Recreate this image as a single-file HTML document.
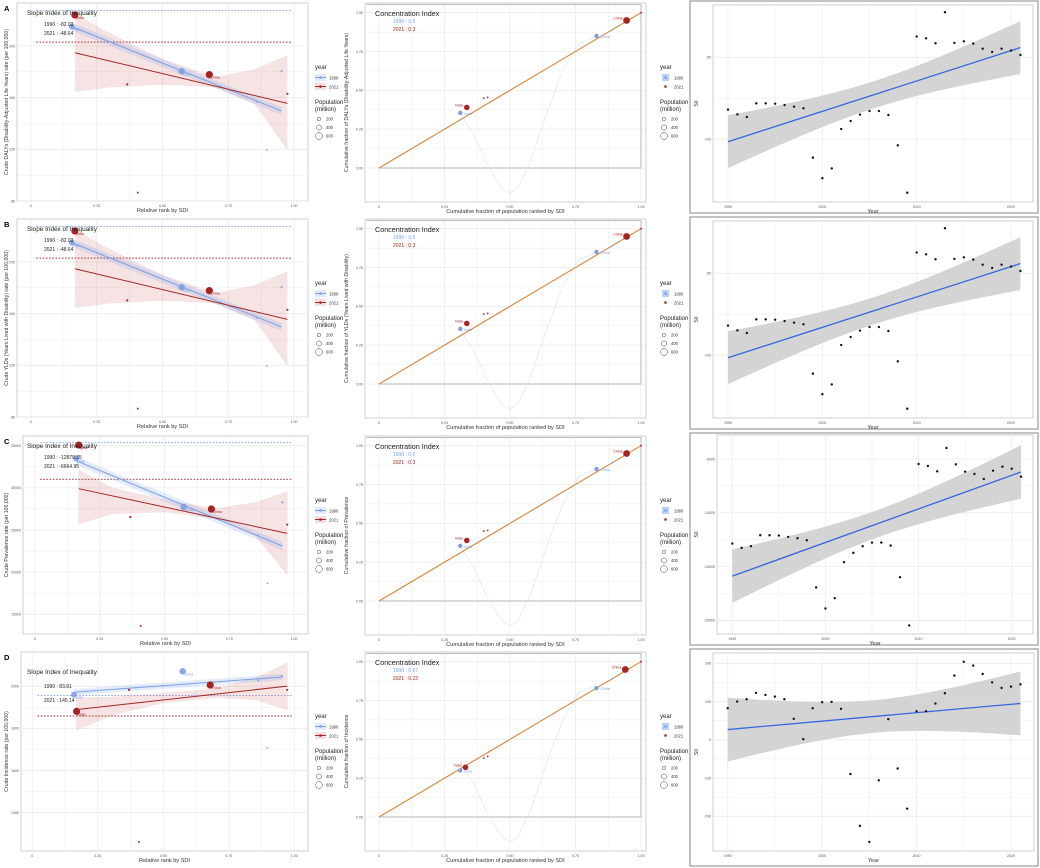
<!DOCTYPE html>
<html><head><meta charset="utf-8"><style>
html,body{margin:0;padding:0;background:#fff;}
svg{display:block;font-family:"Liberation Sans",Arial,sans-serif;}
</style></head><body>
<svg id="fig" width="1040" height="868" viewBox="0 0 1040 868"></svg>
<script>
// ---------- DATA ----------
// Left panels (slope index): rows A,B,C,D
const rank1990 = [[0.155,0.573,0.953,0.858,0.896],[0.155,0.573,0.953,0.858,0.896],[0.158,0.574,0.955,0.862,0.898],[0.159,0.574,0.953,0.863,0.897]];
const val1990 = [[215,180.4,180.6,157,119.5],[215,180.4,180.6,157,119.5],[33498,27727,28281,24367,18676],[1960,2071,2047,2027,1708]];
const pop1990 = [850,1130,40,25,15];
const rank2021 = [[0.167,0.366,0.678,0.406,0.975],[0.167,0.366,0.678,0.406,0.975],[0.169,0.368,0.681,0.408,0.974],[0.169,0.369,0.679,0.407,0.973]];
const val2021 = [[224,170.3,177.8,86.5,163],[224,170.3,177.8,86.5,163],[35079,26542,27490,13616,25632],[1881,1983,2006,1261,1983]];
const pop2021 = [1400,40,1420,20,30];
const countryNames = ["India","China"];
const fit1990 = [[215,149.7],[215,149.7],[33221,23103],[1972,2044]];
const fit2021 = [[194.8,155.6],[194.8,155.6],[29901,24605],[1889,2001]];
const fitX1990 = [[0.155,0.953],[0.155,0.953],[0.158,0.955],[0.159,0.953]];
const fitX2021 = [[0.167,0.975],[0.167,0.975],[0.169,0.974],[0.169,0.973]];
const bandX = [0.167,0.3,0.5,0.7,0.85,0.975];
const bandLo2021 = [[164.5,168,170,168,155,119.5],[164.5,168,170,168,155,119.5],[25672,26900,27100,26300,24300,19585],[1789,1860,1920,1945,1935,1886]];
const bandHi2021 = [[225,210,190,176,182,193],[225,210,190,176,182,193],[32194,30000,28600,27600,28300,29585],[1947,1950,1968,1990,2040,2114]];
const hline1990 = [227.4,227.4,35356,1956];
const hline2021 = [203,203,31008,1859];
const sii1990 = ["1990 : -82.03","1990 : -82.03","1990 : -12870.35","1990 : 83.81"];
const sii2021 = ["2021 : -48.64","2021 : -48.64","2021 : -6664.95","2021 : 145.14"];
const leftTicks = [[80,120,160,200],[80,120,160,200],[15000,20000,25000,30000,35000],[1400,1600,1800,2000]];
const leftYTitles = ["Crude DALYs (Disability-Adjusted Life Years) rate (per 100,000)","Crude YLDs (Years Lived with Disability) rate (per 100,000)","Crude Prevalence rate (per 100,000)","Crude Incidence rate (per 100,000)"];
// Middle panels (concentration)
const ci1990 = ["1990 : 0.6","1990 : 0.6","1990 : 0.6","1990 : 0.57"];
const ci2021 = ["2021 : 0.3","2021 : 0.3","2021 : 0.3","2021 : 0.22"];
const cumPop1990 = [[0.31,0.83,0.89],[0.31,0.83,0.89],[0.31,0.83,0.89],[0.31,0.83,0.89]];
const cumVal1990 = [[0.355,0.85,0.89],[0.355,0.85,0.89],[0.355,0.85,0.89],[0.30,0.83,0.89]];
const cumPop2021 = [[0.335,0.945,0.40,0.415,1.0],[0.335,0.945,0.40,0.415,1.0],[0.335,0.945,0.40,0.415,1.0],[0.33,0.94,0.40,0.415,1.0]];
const cumVal2021 = [[0.39,0.95,0.45,0.455,1.0],[0.39,0.95,0.45,0.455,1.0],[0.39,0.95,0.45,0.455,1.0],[0.32,0.95,0.38,0.39,1.0]];
const curveX = [0.31,0.36,0.42,0.47,0.5,0.53,0.58,0.64,0.70,0.76,0.83];
const curveY = [0.355,0.22,0.0,-0.13,-0.16,-0.13,0.05,0.35,0.62,0.80,0.85];
const midYTitles = ["Cumulative fraction of DALYs (Disability-Adjusted Life Years)","Cumulative fraction of YLDs (Years Lived with Disability)","Cumulative fraction of Prevalence","Cumulative fraction of Incidence"];
const fracTicks = [0,0.25,0.5,0.75,1];
// Right panels (SII over years)
const years = [1990,1991,1992,1993,1994,1995,1996,1997,1998,1999,2000,2001,2002,2003,2004,2005,2006,2007,2008,2009,2010,2011,2012,2013,2014,2015,2016,2017,2018,2019,2020,2021];
const siiA = [-82,-84.9,-86.5,-78.2,-78.2,-78.4,-79.2,-80.2,-81.2,-111.4,-124,-118,-93.9,-89,-85.1,-82.9,-82.9,-85.3,-103.9,-132.9,-37.3,-38.4,-41.4,-22.4,-41.2,-40.2,-41.6,-44.7,-46.7,-44.7,-45.9,-48.6];
const siiB = siiA.slice();
const siiC = [-12864,-13266,-13111,-12090,-12090,-12121,-12245,-12368,-12554,-16950,-18901,-17941,-14598,-13731,-13111,-12771,-12771,-13050,-15991,-20480,-5464,-5650,-6146,-3978,-5495,-6176,-6393,-6858,-6084,-5712,-5898,-6641];
const siiD = [82.6,100,106,122.6,117.4,113,106,54.8,1.7,82.6,98.3,99,81,-89.6,-225,-267,-106,54,-75,-180,74.8,74.8,94.8,121.7,167.8,204,194,172,150,135.7,139,145];
const siiSeries = [siiA,siiB,siiC,siiD];
const rightTicks = [[-100,-50],[-100,-50],[-20000,-15000,-10000,-5000],[-200,-100,0,100,200]];
const yearTicks = [1990,2000,2010,2020];

// ---------- LAYOUT ----------
const leftCfg = [
 {px0:17,px1:308,py0:3,py1:201,x0:31,x1:294,va:200,ya:46,vb:80,yb:201},
 {px0:17,px1:308,py0:219,py1:417,x0:31,x1:294,va:200,ya:262,vb:80,yb:417},
 {px0:23,px1:308,py0:436,py1:634,x0:35,x1:294,va:35000,ya:445.7,vb:15000,yb:614.3},
 {px0:21,px1:308,py0:652,py1:851,x0:32.3,x1:294.3,va:2000,ya:686.3,vb:1400,yb:812.7}];
const midOff=[0,216,433,649];
const rightCfg = [
 {bx:690,by:1,bh:212,px0:713,px1:1033,py0:5,py1:202,x0:728,x1:1011,va:-50,ya:57.3,vb:-100,yb:139},
 {bx:690,by:217,bh:212,px0:713,px1:1033,py0:221,py1:418,x0:728,x1:1011,va:-50,ya:273.3,vb:-100,yb:355},
 {bx:690,by:433,bh:212,px0:717,px1:1033,py0:435,py1:634,x0:732.3,x1:1011.7,va:-5000,ya:459,vb:-20000,yb:620.3},
 {bx:690,by:649,bh:217,px0:713,px1:1034,py0:653,py1:851,x0:727.7,x1:1011,va:200,ya:663.3,vb:-200,yb:816.3}];

const svg=document.getElementById('fig');
const NS='http://www.w3.org/2000/svg';
function mk(tag,attrs,parent){const e=document.createElementNS(NS,tag);for(const k in attrs)e.setAttribute(k,attrs[k]);(parent||svg).appendChild(e);return e;}
function txt(x,y,s,size,fill,anchor,parent,extra){const e=mk('text',Object.assign({x:x,y:y,'font-size':size,fill:fill||'#333','text-anchor':anchor||'start'},extra||{}),parent);e.textContent=s;return e;}
function lin(a0,p0,a1,p1){return v=>p0+(v-a0)*(p1-p0)/(a1-a0);}

const BLUE='#7c9fe6', RED='#a52424';
function rad(p){return 0.6+Math.sqrt(p)*0.08;}

function frame(c,g,xs,ys,xt,yt,xlab,ylab,fmtX,fmtY){
  const bg=mk('rect',{x:c.px0,y:c.py0,width:c.px1-c.px0,height:c.py1-c.py0,fill:'#fff',stroke:'#cfcfcf','stroke-width':1},g);
  
  
  const all=[];
  for(let i=0;i<xt.length;i++){all.push([xs(xt[i]),1]);if(i<xt.length-1)all.push([xs((xt[i]+xt[i+1])/2),0]);}
  all.forEach(a=>{const l=mk('line',{x1:a[0],x2:a[0],y1:c.py0,y2:c.py1,stroke:'#ececec','stroke-width':a[1]?0.8:0.5},g);
    
    });
  const ally=[];
  for(let i=0;i<yt.length;i++){ally.push([ys(yt[i]),1]);if(i<yt.length-1)ally.push([ys((yt[i]+yt[i+1])/2),0]);}
  ally.forEach(a=>{if(a[0]<c.py0||a[0]>c.py1)return;const l=mk('line',{x1:c.px0,x2:c.px1,y1:a[0],y2:a[0],stroke:'#ececec','stroke-width':a[1]?0.8:0.5},g);
    
    });
  xt.forEach(v=>{const t=txt(xs(v),c.py1+6,fmtX(v),3.6,'#555','middle',g);
    
    });
  yt.forEach(v=>{const t=txt(c.px0-2,ys(v)+1.3,fmtY(v),3.6,'#555','end',g);
    
    });
  const xl=txt((c.px0+c.px1)/2,c.py1+11,xlab,5.6,'#333','middle',g);
  
  
  const cy=(c.py0+c.py1)/2, cx=c.ylx;
  const yl=txt(cx,cy,ylab,5.2,'#333','middle',g,{transform:'rotate(-90 '+cx+' '+cy+')'});
  
  
}
function legend(x,y,g,square){
  const t=txt(x,y,'year',6,'#222','start',g);
  
  
  [[BLUE,'1990',0],[RED,'2021',1]].forEach(d=>{
    const yy=y+9+d[2]*9;
    const e=mk('g',{},g);
    
    
    if(square){ if(d[2]==0) mk('rect',{x:x+2,y:yy-4,width:7,height:7,fill:'#bcd0f5'},e);
      mk('circle',{cx:x+5.5,cy:yy-0.5,r:1.3,fill:d[0]},e);}
    else { mk('rect',{x:x,y:yy-4,width:11,height:7,fill:d[2]?'#f4dede':'#e4ecfb'},e);
      mk('line',{x1:x,x2:x+11,y1:yy-0.5,y2:yy-0.5,stroke:d[0],'stroke-width':1},e);
      mk('circle',{cx:x+5.5,cy:yy-0.5,r:1.3,fill:d[0]},e);}
    txt(x+14,yy+1.3,d[1],4.2,'#333','start',e);
  });
  const p=txt(x,y+35,'Population',6,'#222','start',g);
  
  
  txt(x,y+42,'(million)',6,'#222','start',g);
  [200,400,600].forEach((v,i)=>{const e=mk('g',{},g);
    
    
    mk('circle',{cx:x+4,cy:y+50+i*8.5,r:1.8+i*0.8,fill:'none',stroke:'#444','stroke-width':0.5},e);
    txt(x+11,y+51.5+i*8.5,String(v),4.2,'#333','start',e);});
}

const letters=['A','B','C','D'];
for(let r=0;r<4;r++){
  // ----- LEFT -----
  const c=Object.assign({ylx:8},leftCfg[r]);
  const g=mk('g',{});
  
  
  const xs=lin(0,c.x0,1,c.x1), ys=lin(c.va,c.ya,c.vb,c.yb);
  frame(c,g,xs,ys,[0,0.25,0.5,0.75,1],leftTicks[r],'Relative rank by SDI',leftYTitles[r],v=>v===0?'0':v.toFixed(2),v=>String(v));
  const L=txt(4,c.py0+8,letters[r],7.5,'#000','start',g,{'font-weight':'bold'});
  
  
  // dashed lines
  [[hline1990[r],BLUE,'hline-1990'],[hline2021[r],RED,'hline-2021']].forEach(h=>{
    const l=mk('line',{x1:xs(0.02),x2:xs(0.99),y1:ys(h[0]),y2:ys(h[0]),stroke:h[1],'stroke-width':0.9,'stroke-dasharray':'1.6,1.6'},g);
    
    });
  // band 2021
  let pts=bandX.map((x,i)=>xs(x)+','+ys(bandHi2021[r][i]));
  pts=pts.concat(bandX.slice().reverse().map((x,i)=>xs(x)+','+ys(bandLo2021[r][bandX.length-1-i])));
  const bd=mk('polygon',{points:pts.join(' '),fill:'rgba(200,90,90,0.16)'},g);
  
  
  // band 1990 narrow
  const f0=fitX1990[r], v0=fit1990[r], bw=(c.va-c.vb)*0.025;
  const bb=mk('polygon',{points:[xs(f0[0])+','+ys(v0[0]+bw),xs(f0[1])+','+ys(v0[1]+bw),xs(f0[1])+','+ys(v0[1]-bw),xs(f0[0])+','+ys(v0[0]-bw)].join(' '),fill:'rgba(120,155,230,0.2)'},g);
  
  
  const l1=mk('line',{x1:xs(f0[0]),y1:ys(v0[0]),x2:xs(f0[1]),y2:ys(v0[1]),stroke:BLUE,'stroke-width':1},g);
  
  
  const f1=fitX2021[r], v1=fit2021[r];
  const l2=mk('line',{x1:xs(f1[0]),y1:ys(v1[0]),x2:xs(f1[1]),y2:ys(v1[1]),stroke:RED,'stroke-width':1},g);
  
  
  rank1990[r].forEach((x,i)=>{const p=mk('circle',{cx:xs(x),cy:ys(val1990[r][i]),r:rad(pop1990[i]),fill:BLUE,opacity:0.9},g);
    
    
    if(i<2){txt(xs(x)+1,ys(val1990[r][i])+4,countryNames[i],3.6,BLUE,'start',g);}});
  rank2021[r].forEach((x,i)=>{const p=mk('circle',{cx:xs(x),cy:ys(val2021[r][i]),r:rad(pop2021[i]),fill:RED},g);
    
    
    if(i===0||i===2){txt(xs(x)+1,ys(val2021[r][i])+4,countryNames[i===0?0:1],3.6,RED,'start',g);}});
  const st=txt(27,c.py0+(r===3?22:12),'Slope Index of Inequality',6.4,'#222','start',g);
  
  
  const dy=r===3?36:23, gap=r===3?14:9;
  const s1=txt(44,c.py0+dy,sii1990[r],5,'#222','start',g);
  
  
  const s2=txt(44,c.py0+dy+gap,sii2021[r],5,'#222','start',g);
  
  
  legend(315,c.py0+66,g,false);

  // ----- MIDDLE -----
  const o=midOff[r];
  const m={px0:365,px1:646,py0:3+o,py1:202+o,ylx:348};
  const gm=mk('g',{});
  
  
  const mx=lin(0,379,1,641), my=lin(0,168+o,1,12.7+o);
  frame(m,gm,mx,my,fracTicks,fracTicks,'Cumulative fraction of population ranked by SDI',midYTitles[r],v=>v===0?'0':v.toFixed(2),v=>v.toFixed(2));
  const box=mk('path',{d:'M'+mx(0)+' '+my(0)+' H'+mx(1)+' V'+(m.py0+1.5)+' H'+(m.px0+1.5),fill:'none',stroke:'#c4c4c4','stroke-width':1.2},gm);
  
  
  const cv=mk('path',{d:curveX.map((x,i)=>(i?'L':'M')+mx(x)+' '+my(curveY[i])).join(' '),fill:'none',stroke:'#dde3ee','stroke-width':0.6},gm);
  
  
  const dg=mk('line',{x1:mx(0),y1:my(0),x2:mx(1),y2:my(1),stroke:'#d4883c','stroke-width':1.1},gm);
  
  
  cumPop1990[r].forEach((x,i)=>{const p=mk('circle',{cx:mx(x),cy:my(cumVal1990[r][i]),r:i<2?2.2:0.8,fill:BLUE},gm);
    
    
    if(i<2)txt(mx(x)+4,my(cumVal1990[r][i])+2,countryNames[i],3.6,BLUE,'start',gm);});
  cumPop2021[r].forEach((x,i)=>{const p=mk('circle',{cx:mx(x),cy:my(cumVal2021[r][i]),r:i===0?2.8:(i===1?3.4:0.9),fill:RED},gm);
    
    
    if(i<2)txt(mx(x)-4,my(cumVal2021[r][i])-1,countryNames[i],3.6,RED,'end',gm);});
  const ct=txt(375,m.py0+13,'Concentration Index',7.2,'#222','start',gm);
  
  
  const c1=txt(393,m.py0+20,ci1990[r],5,BLUE,'start',gm);
  
  
  const c2=txt(393,m.py0+28,ci2021[r],5,RED,'start',gm);
  
  
  legend(660,m.py0+66,gm,true);

  // ----- RIGHT -----
  const rc=Object.assign({ylx:698},rightCfg[r]);
  const gr=mk('g',{});
  
  
  const ob=mk('rect',{x:rc.bx,y:rc.by,width:348,height:rc.bh,fill:'#fff',stroke:'#9a9a9a','stroke-width':1.2},gr);
  
  
  const rx=lin(1990,rc.x0,2020,rc.x1), ry=lin(rc.va,rc.ya,rc.vb,rc.yb);
  frame(rc,gr,rx,ry,yearTicks,rightTicks[r],'Year','SII',v=>String(v),v=>String(v));
  const ys2=siiSeries[r], n=years.length;
  const xm=years.reduce((a,b)=>a+b,0)/n, ym=ys2.reduce((a,b)=>a+b,0)/n;
  let sxx=0,sxy=0;years.forEach((x,i)=>{sxx+=(x-xm)*(x-xm);sxy+=(x-xm)*(ys2[i]-ym);});
  const b=sxy/sxx, a=ym-b*xm;
  let sse=0;years.forEach((x,i)=>{const e=ys2[i]-(a+b*x);sse+=e*e;});
  const s=Math.sqrt(sse/(n-2)), tq=2.042;
  const up=[],lo=[];
  for(let k=0;k<=40;k++){const x=years[0]+(years[n-1]-years[0])*k/40;const h=tq*s*Math.sqrt(1/n+(x-xm)*(x-xm)/sxx);
    up.push(rx(x)+','+ry(a+b*x+h));lo.unshift(rx(x)+','+ry(a+b*x-h));}
  const band=mk('polygon',{points:up.concat(lo).join(' '),fill:'#cfcfcf',opacity:0.9},gr);
  
  
  const tl=mk('line',{x1:rx(years[0]),y1:ry(a+b*years[0]),x2:rx(years[n-1]),y2:ry(a+b*years[n-1]),stroke:'#3466e0','stroke-width':1.3},gr);
  
  
  years.forEach((x,i)=>{const p=mk('circle',{cx:rx(x),cy:ry(ys2[i]),r:1.2,fill:'#111'},gr);
    
    });
}
</script>
</body></html>
